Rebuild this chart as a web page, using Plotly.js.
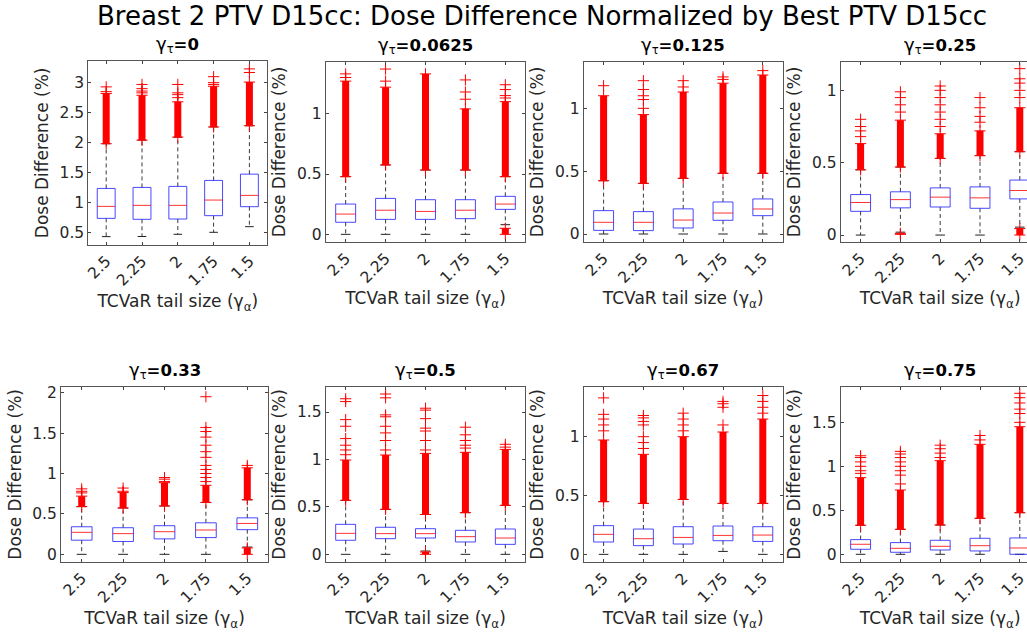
<!DOCTYPE html>
<html>
<head>
<meta charset="utf-8">
<script src="https://cdn.plot.ly/plotly-3.0.1.min.js"></script>
<style>
html,body{margin:0;padding:0;overflow:hidden;background:#fff;}
#chart{width:1045px;height:635px;}
</style>
</head>
<body>
<div id="chart"></div>
<script>
// ---------------- data ----------------
const tailSizes = ['2.5', '2.25', '2', '1.75', '1.5'];
const gammaTau = ['0', '0.0625', '0.125', '0.25', '0.33', '0.5', '0.67', '0.75'];

const q1 = [
  [0.733, 0.717, 0.722, 0.778, 0.928],
  [0.100, 0.124, 0.124, 0.130, 0.207],
  [0.029, 0.027, 0.048, 0.109, 0.146],
  [0.164, 0.188, 0.194, 0.185, 0.250],
  [0.175, 0.159, 0.191, 0.207, 0.305],
  [0.148, 0.165, 0.172, 0.130, 0.105],
  [0.105, 0.074, 0.088, 0.116, 0.110],
  [0.057, 0.023, 0.049, 0.038, 0.000]
];
const medians = [
  [0.933, 0.950, 0.950, 1.039, 1.117],
  [0.168, 0.200, 0.190, 0.200, 0.251],
  [0.093, 0.093, 0.111, 0.167, 0.199],
  [0.225, 0.245, 0.262, 0.257, 0.308],
  [0.272, 0.256, 0.280, 0.301, 0.382],
  [0.221, 0.218, 0.218, 0.186, 0.172],
  [0.170, 0.133, 0.144, 0.161, 0.164],
  [0.114, 0.068, 0.091, 0.098, 0.072]
];
const q3 = [
  [1.233, 1.250, 1.267, 1.367, 1.472],
  [0.251, 0.298, 0.287, 0.287, 0.315],
  [0.186, 0.178, 0.200, 0.255, 0.279],
  [0.280, 0.299, 0.326, 0.333, 0.380],
  [0.341, 0.329, 0.354, 0.390, 0.451],
  [0.316, 0.285, 0.270, 0.253, 0.267],
  [0.244, 0.215, 0.235, 0.241, 0.235],
  [0.167, 0.133, 0.159, 0.182, 0.186]
];
const whiskerLow = [
  [0.428, 0.430, 0.467, 0.500, 0.594],
  [0.000, 0.000, 0.000, 0.000, 0.080],
  [0.000, 0.000, 0.000, 0.000, 0.000],
  [0.000, 0.020, 0.000, 0.000, 0.055],
  [0.000, 0.000, 0.000, 0.000, 0.090],
  [0.000, 0.000, 0.035, 0.000, 0.000],
  [0.000, 0.000, 0.000, 0.025, 0.000],
  [0.000, 0.000, 0.000, 0.000, 0.000]
];
const whiskerHigh = [
  [1.980, 2.040, 2.090, 2.260, 2.280],
  [0.478, 0.575, 0.533, 0.533, 0.478],
  [0.424, 0.403, 0.443, 0.483, 0.483],
  [0.451, 0.470, 0.530, 0.549, 0.576],
  [0.590, 0.573, 0.598, 0.642, 0.675],
  [0.569, 0.474, 0.420, 0.439, 0.516],
  [0.448, 0.433, 0.467, 0.433, 0.433],
  [0.330, 0.284, 0.333, 0.409, 0.473]
];
// top of the dense (continuous) run of high outliers
const denseOutlierTop = [
  [2.82, 2.79, 2.68, 2.94, 3.01],
  [1.27, 1.22, 1.33, 1.04, 1.10],
  [1.10, 0.95, 1.13, 1.20, 1.265],
  [0.632, 0.794, 0.70, 0.72, 0.88],
  [0.72, 0.764, 0.886, 0.854, 1.07],
  [0.994, 1.047, 1.064, 1.075, 1.106],
  [0.972, 0.85, 1.00, 1.04, 1.15],
  [0.871, 0.731, 1.064, 1.25, 1.45]
];
// isolated high outliers above the dense run
const sparseOutliers = [
  [[2.85, 2.93], [2.83, 2.86, 2.90, 2.97], [2.75, 2.80, 2.83, 2.97], [2.97, 3.00, 3.10], [3.17, 3.23]],
  [[1.30, 1.33], [1.27, 1.37], [], [1.12, 1.18, 1.28], [1.13, 1.15, 1.20, 1.24]],
  [[1.18], [1.00, 1.07, 1.10, 1.15, 1.22], [1.17, 1.22], [1.23, 1.25], [1.30]],
  [[0.68, 0.72, 0.75, 0.80], [0.85, 0.90, 0.95, 0.99], [0.75, 0.80, 0.85, 0.90, 0.95, 1.00, 1.03], [0.78, 0.82, 0.88, 0.95], [0.95, 1.00, 1.05, 1.08, 1.15]],
  [[0.76, 0.78, 0.81], [0.78, 0.82], [0.90, 0.93, 0.95], [0.90, 0.95, 1.00, 1.05, 1.10, 1.20, 1.27, 1.35, 1.45, 1.52, 1.57, 1.95], [1.10]],
  [[1.05, 1.10, 1.15, 1.22, 1.35, 1.42, 1.61, 1.64], [1.10, 1.20, 1.28, 1.35, 1.45, 1.47, 1.65, 1.69], [1.10, 1.20, 1.30, 1.33, 1.43, 1.52, 1.54], [1.12, 1.15, 1.20, 1.26, 1.34], [1.13, 1.16]],
  [[1.05, 1.10, 1.15, 1.19, 1.33], [0.90, 0.95, 1.00, 1.10, 1.13, 1.16, 1.18], [1.05, 1.10, 1.15, 1.20], [1.10, 1.25, 1.28, 1.30], [1.20, 1.25, 1.30, 1.35]],
  [[0.92, 0.95, 1.00, 1.05, 1.10, 1.12], [0.80, 0.90, 0.95, 1.00, 1.05, 1.10, 1.14, 1.17], [1.10, 1.15, 1.20, 1.24], [1.30, 1.35], [1.50, 1.60, 1.65, 1.72, 1.78, 1.83]]
];
// low outliers: [min, max] of the run below the lower whisker, or null
const lowOutlierRun = [
  [null, null, null, null, null],
  [null, null, null, null, [0.0, 0.05]],
  [null, null, null, null, null],
  [null, [0.005, 0.012], null, null, [0.0, 0.045]],
  [null, null, null, null, [0.0, 0.08]],
  [null, null, [0.0, 0.025], null, null],
  [null, null, null, null, null],
  [null, null, null, null, null]
];
const yRanges = [[0.288, 3.367], [-0.066, 1.431], [-0.066, 1.371], [-0.05, 1.198],
                 [-0.095, 2.074], [-0.081, 1.767], [-0.065, 1.425], [-0.0875, 1.905]];

// ---------------- layout geometry (pixels) ----------------
const W = 1045, H = 635;
const xDomPx = [[88.3, 267.3], [325.7, 525.3], [583.7, 782.7], [840.7, 1039.7],
                [61, 268], [325.7, 525.3], [583.7, 782.7], [840.7, 1039.7]];
const yDomPx = [[60.7, 245], [61.7, 242.3], [61.7, 242.3], [61.7, 242.3],
                [386.7, 562], [386.7, 562], [386.7, 562], [386.7, 562]];

const txt = '#262626';
const font = 'DejaVu Sans, Liberation Sans, sans-serif';
const traces = [];
const layout = {
  width: W, height: H,
  margin: {l: 0, r: 0, t: 0, b: 0},
  paper_bgcolor: '#fff', plot_bgcolor: '#fff',
  showlegend: false,
  font: {family: font, color: txt},
  title: {
    text: 'Breast 2 PTV D15cc: Dose Difference Normalized by Best PTV D15cc',
    font: {size: 26, color: '#000', family: font},
    x: 542 / W, xanchor: 'center', xref: 'paper',
    y: 1 - 16 / H, yanchor: 'middle', yref: 'container'
  },
  annotations: []
};

const half = 0.25, capHalf = 0.12;
for (let p = 0; p < 8; p++) {
  const ax = p === 0 ? '' : String(p + 1);
  const xa = 'x' + ax, ya = 'y' + ax;
  const wx = [], wy = [], cx = [], cy = [], bx = [], by = [], mx = [], my = [];
  const ox = [], oy = [], sx = [], sy = [], lx = [], ly = [];
  for (let k = 0; k < 5; k++) {
    const c = k + 1;
    wx.push(c, c, null, c, c, null);
    wy.push(q3[p][k], whiskerHigh[p][k], null, q1[p][k], whiskerLow[p][k], null);
    cx.push(c - capHalf, c + capHalf, null, c - capHalf, c + capHalf, null);
    cy.push(whiskerHigh[p][k], whiskerHigh[p][k], null, whiskerLow[p][k], whiskerLow[p][k], null);
    bx.push(c - half, c + half, c + half, c - half, c - half, null);
    by.push(q1[p][k], q1[p][k], q3[p][k], q3[p][k], q1[p][k], null);
    mx.push(c - half, c + half, null);
    my.push(medians[p][k], medians[p][k], null);
    ox.push(c, c, null);
    oy.push(whiskerHigh[p][k], denseOutlierTop[p][k], null);
    sparseOutliers[p][k].forEach(v => { sx.push(c); sy.push(v); });
    sx.push(c); sy.push(denseOutlierTop[p][k]);
    sx.push(c); sy.push(whiskerHigh[p][k]);
    const lo = lowOutlierRun[p][k];
    if (lo) {
      lx.push(c, c, null); ly.push(lo[0], lo[1], null);
      sx.push(c, c); sy.push(lo[0], lo[1]);
    }
  }
  traces.push({type: 'scatter', mode: 'lines', x: wx, y: wy, xaxis: xa, yaxis: ya,
    line: {color: '#3a3a3a', width: 1, dash: '4px,3px'}, hoverinfo: 'skip'});
  traces.push({type: 'scatter', mode: 'lines', x: cx, y: cy, xaxis: xa, yaxis: ya,
    line: {color: '#222', width: 1}, hoverinfo: 'skip'});
  traces.push({type: 'scatter', mode: 'lines', x: ox, y: oy, xaxis: xa, yaxis: ya,
    line: {color: '#ff0000', width: 7}, hoverinfo: 'skip'});
  if (lx.length) traces.push({type: 'scatter', mode: 'lines', x: lx, y: ly, xaxis: xa, yaxis: ya,
    line: {color: '#ff0000', width: 7}, hoverinfo: 'skip'});
  traces.push({type: 'scatter', mode: 'markers', x: sx, y: sy, xaxis: xa, yaxis: ya,
    marker: {symbol: 'cross-thin-open', size: 8, color: '#ff0000', line: {color: '#ff0000', width: 1}},
    hoverinfo: 'skip'});
  traces.push({type: 'scatter', mode: 'lines', x: bx, y: by, xaxis: xa, yaxis: ya,
    line: {color: 'rgba(40,40,255,0.85)', width: 1}, hoverinfo: 'skip'});
  traces.push({type: 'scatter', mode: 'lines', x: mx, y: my, xaxis: xa, yaxis: ya,
    line: {color: 'rgba(255,0,0,0.8)', width: 1}, hoverinfo: 'skip'});

  const xd = [xDomPx[p][0] / W, xDomPx[p][1] / W];
  const yd = [1 - yDomPx[p][1] / H, 1 - yDomPx[p][0] / H];
  layout['xaxis' + ax] = {
    domain: xd, anchor: ya, range: [0.5, 5.5],
    tickmode: 'array', tickvals: [1, 2, 3, 4, 5], ticktext: tailSizes, tickangle: -45,
    ticks: 'inside', ticklen: 3, tickcolor: '#444', showline: true, linecolor: '#555', linewidth: 1,
    mirror: 'ticks', showgrid: false, zeroline: false,
    tickfont: {size: 15.5, color: txt, family: font},
    title: {text: 'TCVaR tail size (γ<sub>α</sub>)', font: {size: 17, color: txt, family: font}, standoff: 6}
  };
  layout['yaxis' + ax] = {
    domain: yd, anchor: xa, range: yRanges[p], tick0: 0, dtick: 0.5,
    ticks: 'inside', ticklen: 3, tickcolor: '#444', showline: true, linecolor: '#555', linewidth: 1,
    mirror: 'ticks', showgrid: false, zeroline: false,
    tickfont: {size: 15.5, color: txt, family: font},
    title: {text: 'Dose Difference (%)', font: {size: 17, color: txt, family: font}, standoff: 6}
  };
  layout.annotations.push({
    xref: 'paper', yref: 'paper', x: (xd[0] + xd[1]) / 2, y: yd[1] + 3 / H,
    xanchor: 'center', yanchor: 'bottom', showarrow: false,
    text: '<span style="font-size:18px">γ</span><sub>τ</sub><b>=' + gammaTau[p] + '</b>',
    font: {size: 16.5, color: '#000', family: font}
  });
}

Plotly.newPlot('chart', traces, layout, {displayModeBar: false, staticPlot: true});
</script>
</body>
</html>
